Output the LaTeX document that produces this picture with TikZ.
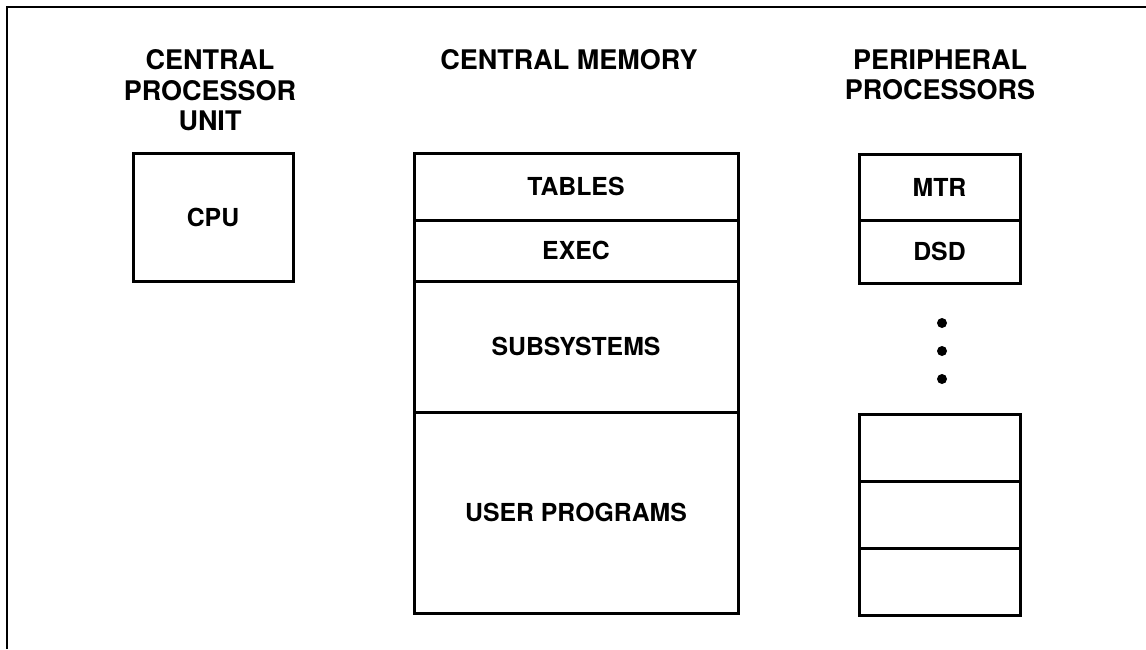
\documentclass[tikz,border=0pt]{standalone}
\usepackage{fontspec}
\setmainfont{TeX Gyre Heros}
\usetikzlibrary{positioning}
\newcommand{\headfont}{\fontsize{13.5pt}{15.35pt}\selectfont\bfseries}
\newcommand{\boxfont}{\fontsize{12.4pt}{14pt}\selectfont\bfseries}

\begin{document}
\begin{tikzpicture}[x=0.5pt, y=-0.5pt,
  cell/.style={draw, line width=1.5pt, outer sep=0pt, inner sep=0pt,
               font=\boxfont, minimum width=#1},
  memcell/.style={cell=162pt},
  ppcell/.style={cell=80.5pt},
  heading/.style={anchor=north, inner sep=0pt, align=center, font=\headfont},
  dot/.style={circle, fill, inner sep=0pt, minimum size=5pt}]
\useasboundingbox (0,0) rectangle (1146,649);
% page frame (scan edge)
\draw[line width=1pt] (7,649) -- (7,7) -- (1146,7);

% headings
\node[heading] (cpuhead) at (210,49) {CENTRAL\\PROCESSOR\\UNIT};
\node[heading] (memhead) at (569,49) {CENTRAL MEMORY};
\node[heading] (pphead) at (940,49) {PERIPHERAL\\PROCESSORS};

% central processor
\node[cell=80pt, minimum height=64pt] (cpu) at (213,217) {CPU};

% central memory
\node[memcell, minimum height=33.5pt] (tables) at (576,186.5) {TABLES};
\node[memcell, minimum height=30.5pt, below=0pt of tables] (exec) {EXEC};
\node[memcell, minimum height=65.5pt, below=0pt of exec] (subsys) {SUBSYSTEMS};
\node[memcell, minimum height=100.5pt, below=0pt of subsys,
      text depth=-5pt] (userprog) {USER PROGRAMS};

% peripheral processors
\node[ppcell, minimum height=33pt] (mtr) at (939.5,187) {MTR};
\node[ppcell, minimum height=31.5pt, below=0pt of mtr] (dsd) {DSD};
\node[dot] (dot1) at (942,323) {};
\node[dot] (dot2) at (942,351) {};
\node[dot] (dot3) at (942,379) {};
\node[ppcell, minimum height=33.5pt] (pp1) at (939.5,447.5) {};
\node[ppcell, minimum height=33.5pt, below=0pt of pp1] (pp2) {};
\node[ppcell, minimum height=33.5pt, below=0pt of pp2] (pp3) {};
\end{tikzpicture}
\end{document}
